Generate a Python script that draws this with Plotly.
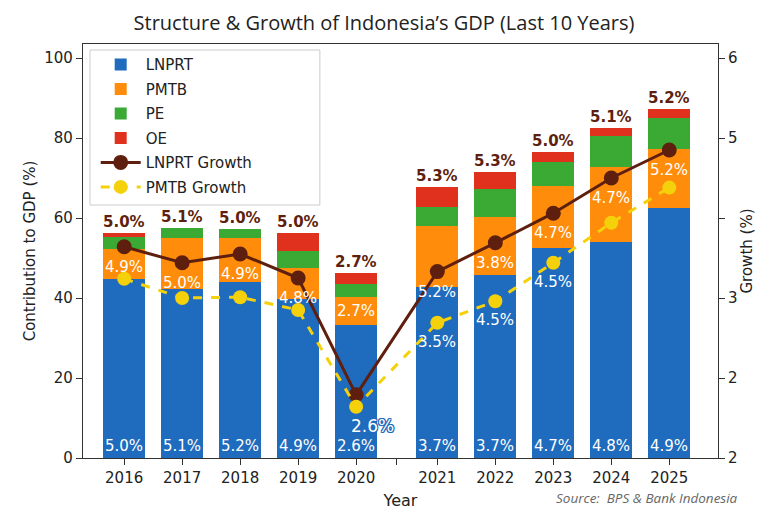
import plotly.graph_objects as go

years = ["2016", "2017", "2018", "2019", "2020", "2021", "2022", "2023", "2024", "2025"]
xpos = [0, 1, 2, 3, 4, 5.4, 6.4, 7.4, 8.4, 9.4]

lnprt = [44.75, 42.25, 44.0, 39.75, 33.25, 42.75, 45.75, 52.5, 54.0, 62.5]
pmtb = [7.5, 12.75, 11.0, 7.75, 7.0, 15.25, 14.5, 15.5, 18.75, 14.75]
pe = [3.0, 2.5, 2.25, 4.25, 3.25, 4.75, 7.0, 6.0, 7.75, 7.75]
oe = [1.0, 0.0, 0.0, 4.5, 2.75, 5.0, 4.25, 2.5, 2.0, 2.25]

lnprt_growth_line = [3.64, 3.44, 3.55, 3.25, 1.79, 3.33, 3.69, 4.06, 4.5, 4.85]
pmtb_growth_line = [3.24, 3.0, 3.01, 2.85, 1.64, 2.69, 2.96, 3.44, 3.94, 4.38]

top_labels = ["5.0%", "5.1%", "5.0%", "5.0%", "2.7%", "5.3%", "5.3%", "5.0%", "5.1%", "5.2%"]
mid_labels = ["4.9%", "5.0%", "4.9%", "4.8%", "2.7%", "5.2%", "3.8%", "4.7%", "4.7%", "5.2%"]
low_labels = [None, None, None, None, "2.6%", "3.5%", "4.5%", "4.5%", None, None]
base_labels = ["5.0%", "5.1%", "5.2%", "4.9%", "2.6%", "3.7%", "3.7%", "4.7%", "4.8%", "4.9%"]

BLUE = "#1f6bbd"
ORANGE = "#ff8c0a"
GREEN = "#3aaa35"
RED = "#e0301e"
BROWN = "#5e1f0e"
YELLOW = "#f5d10c"
FONT = "DejaVu Sans"
OUTLINE = ", ".join(f"{dx}px {dy}px 0 {BLUE}" for dx in (-1, 0, 1) for dy in (-1, 0, 1) if dx or dy)

fig = go.Figure()
for name, vals, col in [("LNPRT", lnprt, BLUE), ("PMTB", pmtb, ORANGE), ("PE", pe, GREEN), ("OE", oe, RED)]:
    fig.add_trace(go.Bar(x=xpos, y=vals, name=name, legendgroup=name, marker=dict(color=col, line=dict(width=0)),
                         width=0.72, hoverinfo="skip"))

fig.add_trace(go.Scatter(x=xpos, y=lnprt_growth_line, name="LNPRT Growth", legendgroup="lg", yaxis="y2",
                         mode="lines+markers", line=dict(color=BROWN, width=3), marker=dict(color=BROWN, size=15)))
fig.add_trace(go.Scatter(x=xpos, y=pmtb_growth_line, name="PMTB Growth", legendgroup="pg", yaxis="y2",
                         mode="lines+markers", line=dict(color=YELLOW, width=3, dash="dash"),
                         marker=dict(color=YELLOW, size=14)))

ann = []
for i, x in enumerate(xpos):
    total = lnprt[i] + pmtb[i] + pe[i] + oe[i]
    ann.append(dict(x=x, y=total, xref="x", yref="y", text=top_labels[i], showarrow=False,
                    yanchor="middle", yshift=11, font=dict(family=FONT, size=15, color=BROWN, weight="bold")))
    ann.append(dict(x=x, y=0, xref="x", yref="y", text=base_labels[i], showarrow=False,
                    yanchor="middle", yshift=12, font=dict(family=FONT, size=15, color="white")))
    if years[i] == "2020":
        ann.append(dict(x=x, y=lnprt[i] + pmtb[i] / 2, xref="x", yref="y", text=mid_labels[i], showarrow=False,
                        yanchor="middle", font=dict(family=FONT, size=15, color="white")))
    else:
        ann.append(dict(x=x, y=lnprt_growth_line[i], xref="x", yref="y2", text=mid_labels[i], showarrow=False,
                        yanchor="middle", yshift=-20, font=dict(family=FONT, size=15, color="white")))
    if low_labels[i]:
        big = years[i] == "2020"
        f = dict(family=FONT, size=(17 if big else 15), color="white")
        if big:
            f["shadow"] = OUTLINE
        ann.append(dict(x=x, y=pmtb_growth_line[i], xref="x", yref="y2", text=low_labels[i], showarrow=False,
                        yanchor="middle", yshift=-19, xshift=(16 if big else 0), font=f))

ann.append(dict(x=1.035, y=-0.097, xref="paper", yref="paper", text="<i>Source:  BPS & Bank Indonesia</i>",
                showarrow=False, xanchor="right", yanchor="middle",
                font=dict(family="Open Sans", size=13.5, color="#666666")))

fig.add_shape(type="rect", xref="paper", yref="paper", x0=0.011, x1=0.373, y0=0.611, y1=0.9855,
              line=dict(color="#cccccc", width=1), fillcolor="rgba(0,0,0,0)", layer="above")

fig.update_layout(
    width=768, height=512,
    margin=dict(l=83, r=50, t=44, b=54),
    paper_bgcolor="white", plot_bgcolor="white",
    barmode="stack",
    title=dict(text="Structure & Growth of Indonesia’s GDP (Last 10 Years)", x=0.5, xanchor="center",
               y=0.955, yanchor="middle", font=dict(family="Open Sans", size=20, color="#222222")),
    font=dict(family=FONT, size=14, color="#222222"),
    xaxis=dict(range=[-0.71, 10.24], tickvals=xpos + [4.7], ticktext=years + [""], automargin=False,
               showline=True, linecolor="#333333", linewidth=1.2, mirror=True,
               ticks="outside", ticklen=6, tickcolor="#333333", showgrid=False, zeroline=False,
               tickfont=dict(family=FONT, size=15),
               title=dict(text="Year", font=dict(family=FONT, size=16), standoff=8)),
    yaxis=dict(range=[0, 103.5], tickvals=[0, 20, 40, 60, 80, 100], showline=True, linecolor="#333333",
               linewidth=1.2, ticks="outside", ticklen=6, tickcolor="#333333", showgrid=False, zeroline=False,
               tickfont=dict(family=FONT, size=15), automargin=False,
               title=dict(text="Contribution to GDP (%)", font=dict(family=FONT, size=15), standoff=5)),
    yaxis2=dict(range=[1, 6.175], overlaying="y", side="right", tickvals=[1, 2, 3, 4, 5, 6],
                ticktext=["2", "2", "3", "", "5", "6"], showline=True, linecolor="#333333", linewidth=1.2,
                ticks="outside", ticklen=6, tickcolor="#333333", showgrid=False, zeroline=False,
                tickfont=dict(family=FONT, size=15), automargin=False,
                title=dict(text="Growth (%)", font=dict(family=FONT, size=15), standoff=3)),
    legend=dict(x=0.02, y=0.99, xanchor="left", yanchor="top", traceorder="grouped",
                bgcolor="rgba(255,255,255,0)", borderwidth=0,
                font=dict(family=FONT, size=15), itemwidth=40, tracegroupgap=2),
    annotations=ann,
    showlegend=True,
)

fig.write_html("out.html")
